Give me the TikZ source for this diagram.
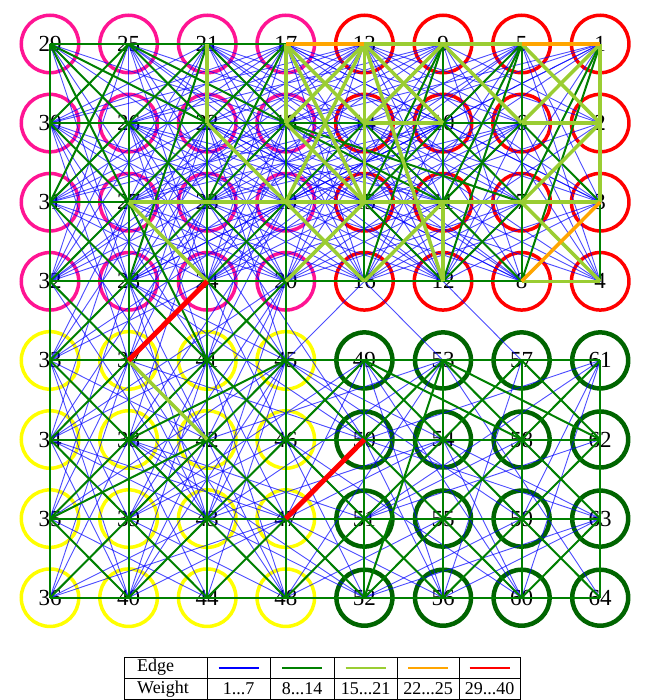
\documentclass[tikz,border=0pt]{standalone}
\usepackage{fontspec}
\setmainfont{Liberation Serif}
\definecolor{cpink}{HTML}{FF1493}
\definecolor{cred}{HTML}{FF0000}
\definecolor{cyel}{HTML}{FFFF00}
\definecolor{cdg}{HTML}{006400}
\definecolor{eblue}{HTML}{0000FF}
\definecolor{egreen}{HTML}{008000}
\definecolor{elight}{HTML}{9ACD32}
\definecolor{eorange}{HTML}{FFA500}
\definecolor{ered}{HTML}{FF0000}
\tikzset{
  vtx/.style={circle, draw=#1, line width=3.5pt, minimum size=57.5pt, inner sep=0pt,
    font=\fontsize{23}{23}\selectfont, text=black},
  vtxg/.style={vtx=cdg, line width=4.5pt, minimum size=56pt},
  eb/.style={draw=eblue, line width=0.9pt, draw opacity=0.7},
  eg/.style={draw=egreen, line width=2pt},
  el/.style={draw=elight, line width=3.5pt},
  eo/.style={draw=eorange, line width=3.5pt},
  er/.style={draw=ered, line width=5pt},
  legfont/.style={font=\fontsize{18}{18}\selectfont, inner sep=0pt},
}
\begin{document}
\begin{tikzpicture}[x=1pt,y=-1pt]
\useasboundingbox (0,0) rectangle (645,700);
\fill[white] (0,0) rectangle (645,700);
% vertices
\foreach \c in {0,...,7}{
  \foreach \r in {0,...,7}{
    \pgfmathtruncatemacro\num{ifthenelse(\r<4, 29-4*\c+\r, 29+4*\c+\r)}
    \pgfmathtruncatemacro\q{(\r>3)*2+(\c>3)}
    \ifcase\q \tikzset{cur/.style={vtx=cpink}}\or\tikzset{cur/.style={vtx=cred}}\or\tikzset{cur/.style={vtx=cyel}}\or\tikzset{cur/.style={vtxg}}\fi
    \node[cur, alias=p\c\r] (n\num) at ({50+78.6*\c},{44+79.1*\r}) {\num};
  }
}
% blue edges
\pgfmathsetseed{4242}
\foreach \i in {0,...,62}{
  \pgfmathtruncatemacro\ca{mod(\i,8)}
  \pgfmathtruncatemacro\ra{int(\i/8)}
  \pgfmathtruncatemacro\ib{\i+1}
  \foreach \j in {\ib,...,63}{
    \pgfmathtruncatemacro\cb{mod(\j,8)}
    \pgfmathtruncatemacro\rb{int(\j/8)}
    \pgfmathtruncatemacro\dc{abs(\ca-\cb)}
    \pgfmathtruncatemacro\dr{abs(\ra-\rb)}
    \pgfmathtruncatemacro\ok{(\dc<5)&&(\dr<4)&&((\dc>1)||(\dr>1))}
    \ifnum\ok=1
      \pgfmathsetmacro\p{ifthenelse(\dc>3, ifthenelse(\rb<4,0.25,0), ifthenelse(\rb<4, 0.95, ifthenelse(\ra<4, ifthenelse(\ca<4, ifthenelse(\cb<4,0.4,0.08), ifthenelse(\cb<4,0.04,0)), ifthenelse(\ca<4, ifthenelse(\cb<4,0.65,0.3), ifthenelse(\cb<4,0.3,0.3)))))}
      \pgfmathtruncatemacro\hit{rnd<\p}
      \ifnum\hit=1 \draw[eb] (p\ca\ra.center) -- (p\cb\rb.center);\fi
    \fi
  }
}
% dark green grid
\foreach \r in {0,...,7}{
  \foreach \c [evaluate=\c as \cn using int(\c+1)] in {0,...,6}{
    \draw[eg] (p\c\r.center) -- (p\cn\r.center);
  }
}
\foreach \c in {0,...,7}{
  \foreach \r [evaluate=\r as \rn using int(\r+1)] in {0,...,6}{
    \pgfmathtruncatemacro\skipv{((\c>3)&&(\r==3))||((\c==1)&&(\r==0))}
    \ifnum\skipv=0 \draw[eg] (p\c\r.center) -- (p\c\rn.center);\fi
  }
}
% dark green diagonals
\foreach \c [evaluate=\c as \cn using int(\c+1)] in {0,...,6}{
  \foreach \r [evaluate=\r as \rn using int(\r+1)] in {0,...,6}{
    \pgfmathtruncatemacro\dd{(\c<3)||(\r>3)||((\r<3)&&(\c>2))}
    \ifnum\dd=1
      \draw[eg] (p\c\r.center) -- (p\cn\rn.center);
      \draw[eg] (p\cn\r.center) -- (p\c\rn.center);
    \fi
  }
}
\foreach \a/\b in {29/22,29/27,25/31,25/18,21/28,17/23,9/15,9/16,5/11,5/12,1/7,1/8,11/18,7/18,27/41,53/62,53/52,49/58,38/45,35/42}
  \draw[eg] (n\a.center) -- (n\b.center);
% light green
\foreach \a/\b in {13/9,9/5,1/2,2/3,8/4,14/10,6/2,27/23,23/19,19/15,15/11,11/7,7/3,21/22,17/18,13/14,14/15,11/12,27/24,37/42,17/14,17/15,13/18,13/19,13/10,13/12,9/14,9/6,5/2,1/6,2/7,7/4,19/16,20/15,16/11,18/15,22/19}
  \draw[el] (n\a.center) -- (n\b.center);
% orange
\foreach \a/\b in {17/13,5/1,8/3}
  \draw[eo] (n\a.center) -- (n\b.center);
% red
\foreach \a/\b in {24/37,47/50}
  \draw[er] (n\a.center) -- (n\b.center);
% legend
\draw[line width=0.9pt] (124,657) rectangle (520,699);
\draw[line width=0.9pt] (124,678) -- (520,678);
\foreach \x in {207,270,334,397,459}
  \draw[line width=0.9pt] (\x,657) -- (\x,699);
\node[legfont, anchor=west] (ledge) at (137,667.5) {Edge};
\node[legfont, anchor=west] (lweight) at (137,689) {Weight};
\node[legfont] (w1) at (238.5,689) {1...7};
\node[legfont] (w2) at (302,689) {8...14};
\node[legfont] (w3) at (365.5,689) {15...21};
\node[legfont] (w4) at (428,689) {22...25};
\node[legfont] (w5) at (489.5,689) {29...40};
\draw[eblue, line width=1.2pt] (218.5,668) -- (258.5,668);
\draw[egreen, line width=1.2pt] (282,668) -- (322,668);
\draw[elight, line width=1.2pt] (345.5,668) -- (385.5,668);
\draw[eorange, line width=1.2pt] (408,668) -- (448,668);
\draw[ered, line width=1.2pt] (469.5,668) -- (509.5,668);
\end{tikzpicture}
\end{document}
